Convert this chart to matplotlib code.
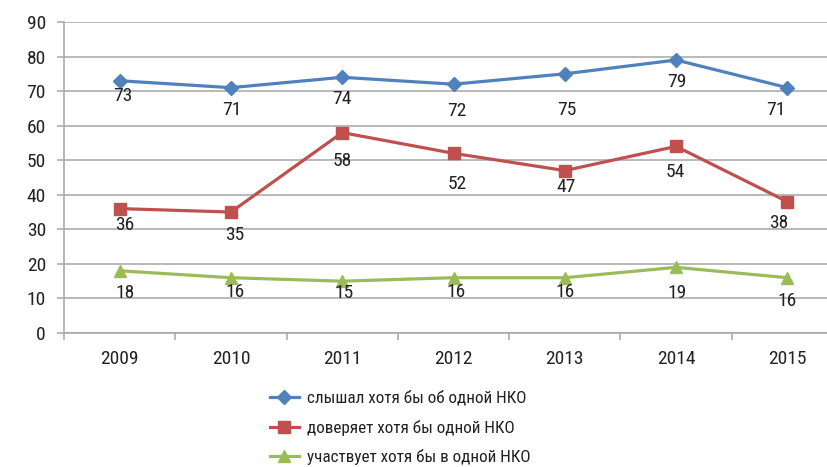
import matplotlib
matplotlib.use("Agg")
import matplotlib.pyplot as plt
from matplotlib import font_manager

years = ["2009", "2010", "2011", "2012", "2013", "2014", "2015"]
heard = [73, 71, 74, 72, 75, 79, 71]
trust = [36, 35, 58, 52, 47, 54, 38]
participate = [18, 16, 15, 16, 16, 19, 16]
series_names = ["слышал хотя бы об одной НКО",
                "доверяет хотя бы одной НКО",
                "участвует хотя бы в одной НКО"]

# label offsets in pixels (dx, dy below point)
off_heard = [(3, 15), (1, 22), (0, 22), (3, 27), (2, 36), (1, 22), (-12, 22)]
off_trust = [(5, 16), (4, 23), (0, 28), (4, 31), (1, 16), (-1, 26), (-9, 21)]
off_part = [(5, 22), (4, 14), (2, 12), (3, 14), (0, 14), (1, 26), (0, 23)]

names = {f.name for f in font_manager.fontManager.ttflist}
fam = [f for f in ["Liberation Sans Narrow", "Roboto Condensed", "Liberation Sans", "DejaVu Sans"] if f in names]
plt.rcParams['font.family'] = fam

W, H = 827, 467
fig = plt.figure(figsize=(W / 100, H / 100), dpi=100)
left, right, bottom, top = 64, 843, 333, 22
ax = fig.add_axes([left / W, 1 - bottom / H, (right - left) / W, (bottom - top) / H])

blue, red, green = "#4F81BD", "#C0504D", "#9BBB59"
x = list(range(len(years)))
ax.plot(x, heard, color=blue, lw=2.3, marker="D", ms=7.5, label=series_names[0], zorder=3)
ax.plot(x, trust, color=red, lw=2.3, marker="s", ms=8, label=series_names[1], zorder=3)
ax.plot(x, participate, color=green, lw=2.3, marker="^", ms=9, label=series_names[2], zorder=3)

for vals, offs in [(heard, off_heard), (trust, off_trust), (participate, off_part)]:
    for xi, v, (dx, dy) in zip(x, vals, offs):
        ax.annotate(str(v), (xi, v), xytext=(dx, -dy), textcoords="offset pixels",
                    ha="center", va="center", fontsize=14, color="#222222", zorder=4)

ax.set_xlim(-0.5, 6.5)
ax.set_ylim(0, 90)
ax.set_yticks(range(0, 91, 10))
ax.yaxis.grid(True, color="#A6A6A6", lw=1.1)
ax.set_axisbelow(True)
for s in ["top", "right"]:
    ax.spines[s].set_visible(False)
for s in ["left", "bottom"]:
    ax.spines[s].set_color("#A6A6A6")
    ax.spines[s].set_linewidth(1.1)
ax.set_xticks(x)
ax.set_xticklabels(years)
ax.set_xticks([i - 0.5 for i in range(len(years) + 1)], minor=True)
ax.tick_params(axis="x", which="major", length=0, pad=12, labelsize=14, colors="#222222")
ax.tick_params(axis="x", which="minor", length=5, width=1.1, color="#A6A6A6")
ax.tick_params(axis="y", length=5, width=1.1, color="#A6A6A6", pad=8, labelsize=14, labelcolor="#222222")

leg = fig.legend(loc="upper left", bbox_to_anchor=(255 / W, 1 - 375 / H), frameon=False,
                 fontsize=12.3, handlelength=1.65, handletextpad=0.47, labelspacing=0.8,
                 labelcolor="#222222")

fig.savefig("out.png", dpi=100)
